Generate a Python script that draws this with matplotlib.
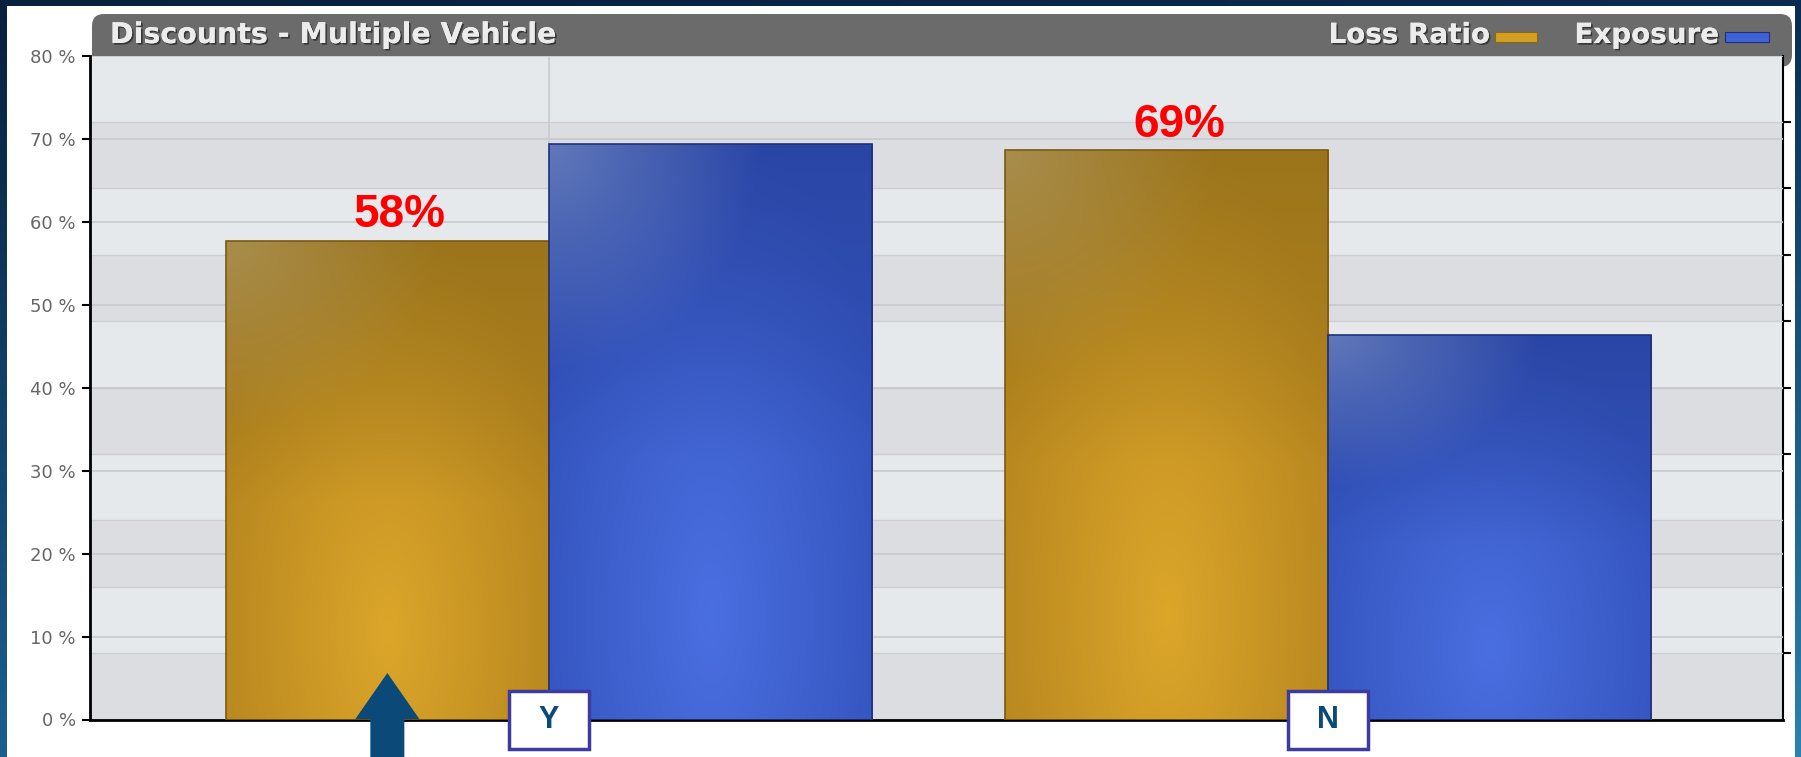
import numpy as np
import matplotlib.pyplot as plt
from matplotlib.patches import Rectangle, FancyBboxPatch, Polygon
from matplotlib.colors import to_rgb
import matplotlib.patheffects as pe

# chart data
categories = ["Y", "N"]
series_names = ["Loss Ratio", "Exposure"]
loss_ratio = [57.7, 68.6]
exposure = [69.3, 46.3]
y_ticks = [0, 10, 20, 30, 40, 50, 60, 70, 80]
y_tick_labels = [f"{t} %" for t in y_ticks]
right_ticks = [8, 32, 40, 48, 56, 64, 72]
title = "Discounts - Multiple Vehicle"

W, H = 1801, 757
fig = plt.figure(figsize=(W / 100, H / 100), dpi=100)

# navy backdrop + white panel + grey header (pixel coordinates, y up)
bg = fig.add_axes([0, 0, 1, 1], zorder=-1)
tl, tr, bl, br = [np.array(to_rgb(c)) for c in ("#07203d", "#0b2c50", "#1b5f8f", "#2c82ae")]
gx = np.linspace(0, 1, 64)[None, :, None]
gy = np.linspace(0, 1, 64)[:, None, None]
grad = (tl * (1 - gx) + tr * gx) * (1 - gy) + (bl * (1 - gx) + br * gx) * gy
bg.imshow(grad, extent=(0, W, 0, H), aspect="auto", origin="upper", interpolation="bilinear")
bg.add_patch(Rectangle((7, 0), 1788, 751, fc="white", ec="none"))
bg.add_patch(FancyBboxPatch((92, 690), 1700, 53, boxstyle="round,pad=0,rounding_size=12",
                            fc="#6b6b6b", ec="none"))
bg.set_xlim(0, W)
bg.set_ylim(0, H)
bg.axis("off")

shadow = [pe.withSimplePatchShadow(offset=(1.2, -1.2), shadow_rgbFace="#222222", alpha=0.7), pe.Normal()]
bg.text(110, 722, title, fontsize=20.5, fontweight="bold", color="#ececec",
        va="center", ha="left", path_effects=shadow)
bg.text(1490, 722, series_names[0], fontsize=20, fontweight="bold", color="#ececec",
        va="center", ha="right", path_effects=shadow)
bg.add_patch(Rectangle((1495, 715), 42, 10, fc="#d39f22", ec="#8a6a16", lw=0.8))
bg.text(1719, 722, series_names[1], fontsize=20, fontweight="bold", color="#ececec",
        va="center", ha="right", path_effects=shadow)
bg.add_patch(Rectangle((1725, 715), 44, 10, fc="#3f62d4", ec="#22307a", lw=0.8))

# main chart
ax = fig.add_axes([89.6 / W, 37.5 / H, (1783 - 89.6) / W, (719.5 - 55.6) / H], zorder=1)
ax.set_facecolor("#e2e4e7")
for lo in range(0, 80, 8):
    ax.axhspan(lo, lo + 8, color="#e6e9ec" if (lo // 8) % 2 else "#dcdde0", lw=0, zorder=0)
    ax.axhline(lo, color="#cdced1", lw=1, zorder=0.5)
for t in y_ticks:
    ax.axhline(t, color="#c8c9cc", lw=1.2, zorder=0.6)

x = np.arange(len(categories))
w = 0.415
ax.axvline(x[0], color="#c9cbce", lw=1.2, zorder=0.7)


def shade(bar, center, edge, dark, corner):
    c, e, d, k = [np.array(to_rgb(col)) for col in (center, edge, dark, corner)]
    u = np.linspace(0, 1, 90)[None, :, None]
    v = np.linspace(1, 0, 160)[:, None, None]
    r = np.sqrt(((u - 0.5) / 0.6) ** 2 + ((v - 0.18) / 0.85) ** 2)
    t = np.clip(r, 0, 1)
    img = c * (1 - t) + e * t
    s = np.clip((v - 0.45) / 0.55, 0, 1) * 0.65
    img = img * (1 - s) + d * s
    hl = np.clip(1 - np.sqrt((u / 0.65) ** 2 + ((1 - v) / 0.4) ** 2), 0, 1) * 0.8
    img = img * (1 - hl) + k * hl
    x0, y0 = bar.get_x(), bar.get_y()
    im = ax.imshow(img, extent=(x0, x0 + bar.get_width(), y0, y0 + bar.get_height()),
                   aspect="auto", origin="upper", interpolation="bilinear", zorder=2)
    im.set_clip_path(bar)


lr_bars = ax.bar(x - w / 2, loss_ratio, w, fc="none", ec="#7a5a12", lw=1.2, zorder=3)
ex_bars = ax.bar(x + w / 2, exposure, w, fc="none", ec="#22307a", lw=1.2, zorder=3)
for b in lr_bars:
    shade(b, "#dca62a", "#b4841e", "#8e6c1a", "#ab9358")
for b in ex_bars:
    shade(b, "#4a6fe0", "#3353bd", "#263f98", "#6d84bf")

for xi, v in zip(x, loss_ratio):
    ax.text(xi - w / 2 + 0.016, v + 1.65, f"{v:.0f}%", ha="center", va="baseline",
            color="#ff0000", fontsize=33, fontweight="bold", family="Liberation Sans", zorder=4)

ax.set_xlim(-0.5897, 1.584)
ax.set_ylim(0, 80)
ax.set_yticks(y_ticks)
ax.set_yticklabels(y_tick_labels)
ax.set_xticks([])
ax.tick_params(axis="y", direction="out", length=6, width=1.5, colors="black",
               labelcolor="#666666", labelsize=13, pad=4)
ax.spines["top"].set_visible(False)
ax.spines["right"].set_visible(False)
ax.spines["left"].set_linewidth(2)
ax.spines["bottom"].set_linewidth(2)

sec = ax.secondary_yaxis("right")
sec.set_yticks(right_ticks)
sec.set_yticklabels([])
sec.tick_params(direction="out", length=6, width=1.5)
sec.spines["right"].set_linewidth(1.5)

# overlay: category boxes and arrow
ov = fig.add_axes([0, 0, 1, 1], zorder=3)
ov.set_xlim(0, W)
ov.set_ylim(0, H)
ov.axis("off")
for xi, cat in zip(x, categories):
    px, py = ax.transData.transform((xi, 0))
    ov.add_patch(Rectangle((px - 40, py - 29), 80, 58, fc="white", ec="#3d3aa0", lw=2.5))
    ov.text(px, py - 1, cat, ha="center", va="center", fontsize=22, fontweight="bold",
            color="#0b4a78", family="Liberation Sans")

ax_px = ax.transData.transform((x[0] - w / 2, 0))[0]
ov.add_patch(Polygon([(ax_px - 17, 0), (ax_px - 17, 38), (ax_px - 32, 38), (ax_px, 84),
                      (ax_px + 32, 38), (ax_px + 17, 38), (ax_px + 17, 0)],
                     closed=True, fc="#0b4a78", ec="none"))

fig.savefig("out.png", dpi=100)
